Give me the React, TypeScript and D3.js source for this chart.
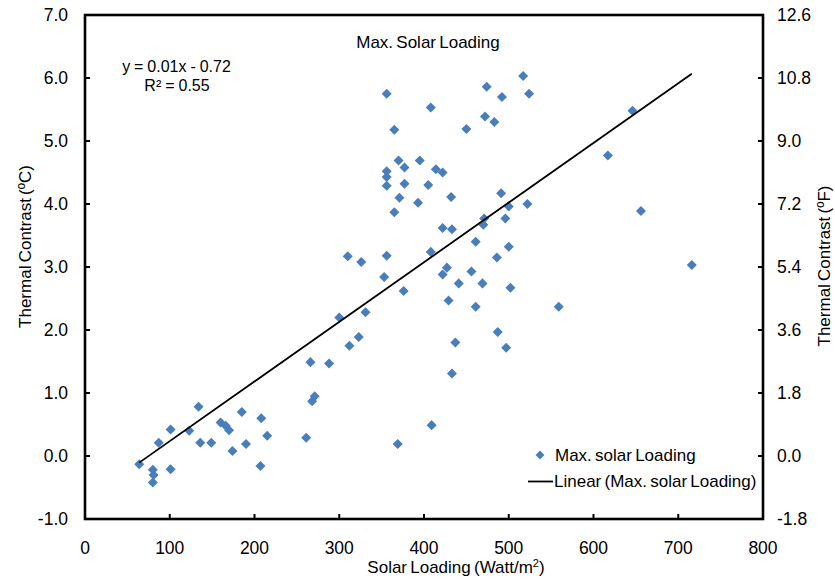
import React from "react";
import * as d3 from "d3";

const solarLoading = [64, 80, 81, 80, 87, 101, 101, 123, 134, 136, 149, 160, 166, 170, 174, 185, 190, 208, 207, 215,
  261, 268, 271, 266, 288, 300, 312, 323, 331, 310, 326, 353, 356, 376, 369, 409, 433, 437, 497, 487,
  429, 461, 559, 441, 469, 502, 456, 422, 427, 486, 408, 461, 500, 422, 433, 470, 471, 496, 500, 522,
  491, 432, 365, 371, 393, 356, 377, 405, 356, 356, 377, 370, 395, 414, 422, 365, 356, 408, 450, 483,
  472, 492, 474, 517, 524, 646, 617, 656, 716];
const thermalContrast = [-0.13, -0.22, -0.30, -0.42, 0.21, 0.42, -0.21, 0.40, 0.78, 0.21, 0.21, 0.53, 0.48, 0.41, 0.08, 0.70, 0.19, 0.60, -0.16, 0.32,
  0.29, 0.87, 0.95, 1.49, 1.47, 2.20, 1.75, 1.89, 2.28, 3.17, 3.08, 2.84, 3.18, 2.62, 0.19, 0.49, 1.31, 1.80, 1.72, 1.97,
  2.47, 2.37, 2.37, 2.74, 2.74, 2.67, 2.93, 2.88, 2.99, 3.15, 3.24, 3.40, 3.32, 3.62, 3.60, 3.67, 3.77, 3.77, 3.96, 4.00,
  4.17, 4.11, 3.87, 4.10, 4.02, 4.29, 4.32, 4.30, 4.43, 4.52, 4.58, 4.69, 4.69, 4.55, 4.50, 5.18, 5.75, 5.53, 5.19, 5.30,
  5.39, 5.70, 5.86, 6.03, 5.75, 5.48, 4.77, 3.89, 3.03];

const xTicks = [0, 100, 200, 300, 400, 500, 600, 700, 800];
const yTicksC = [-1, 0, 1, 2, 3, 4, 5, 6, 7];
const yTicksF = ["-1.8", "0.0", "1.8", "3.6", "5.4", "7.2", "9.0", "10.8", "12.6"];

const title = "Max. Solar Loading";
const equationText = "y = 0.01x - 0.72";
const r2Text = "R² = 0.55";
const seriesName = "Max. solar Loading";
const trendName = "Linear (Max. solar Loading)";

const W = 835, H = 581;
const left = 85, right = 763, top = 15, bottom = 519;
const FONT = "'Liberation Sans', Arial, sans-serif";
const BLUE = "#4A7EBB";
const FS = 16;
const TFS = 17;

export default function App() {
  const x = d3.scaleLinear().domain([0, 800]).range([left, right]);
  const y = d3.scaleLinear().domain([-1, 7]).range([bottom, top]);

  const n = solarLoading.length;
  const mx = d3.mean(solarLoading) as number;
  const my = d3.mean(thermalContrast) as number;
  let sxy = 0, sxx = 0;
  for (let i = 0; i < n; i++) {
    sxy += (solarLoading[i] - mx) * (thermalContrast[i] - my);
    sxx += (solarLoading[i] - mx) ** 2;
  }
  const slope = sxy / sxx;
  const intercept = my - slope * mx;
  const [xmin, xmax] = d3.extent(solarLoading) as [number, number];
  const line = d3.line<number>().x((v) => x(v)).y((v) => y(slope * v + intercept));

  const diamond = d3.symbol().type(d3.symbolDiamond2).size(64)() as string;

  return (
    <svg width={W} height={H} style={{ position: "absolute", left: 0, top: 0, background: "#fff" }} fontFamily={FONT}>
      <rect x={0} y={0} width={W} height={H} fill="#fff" />
      {/* ticks */}
      {xTicks.map((t) => (
        <line key={"xt" + t} x1={x(t)} x2={x(t)} y1={bottom} y2={bottom - 5} stroke="#000" strokeWidth={2} />
      ))}
      {yTicksC.map((t) => (
        <g key={"yt" + t}>
          <line x1={left} x2={left + 5} y1={y(t)} y2={y(t)} stroke="#000" strokeWidth={2} />
          <line x1={right} x2={right - 5} y1={y(t)} y2={y(t)} stroke="#000" strokeWidth={2} />
        </g>
      ))}
      {/* frame */}
      <rect x={left} y={top} width={right - left} height={bottom - top} fill="none" stroke="#000" strokeWidth={2.6} />
      {/* points */}
      {solarLoading.map((v, i) => (
        <path key={"p" + i} d={diamond} transform={`translate(${x(v)},${y(thermalContrast[i])})`} fill={BLUE} />
      ))}
      {/* trendline */}
      <path d={line([xmin, xmax]) as string} fill="none" stroke="#000" strokeWidth={1.8} />
      {/* tick labels */}
      {xTicks.map((t) => (
        <text key={"xl" + t} x={x(t)} y={554} textAnchor="middle" fontSize={17.5} fill="#000">{t}</text>
      ))}
      {yTicksC.map((t) => (
        <text key={"yl" + t} x={68} y={y(t) + 6} textAnchor="end" fontSize={17.5} fill="#000">{t.toFixed(1)}</text>
      ))}
      {yTicksF.map((t, i) => (
        <text key={"yf" + t} x={777} y={y(yTicksC[i]) + 6} textAnchor="start" fontSize={17.5} fill="#000">{t}</text>
      ))}
      {/* titles */}
      <text x={428} y={48} textAnchor="middle" fontSize={TFS} wordSpacing={-1.5}>{title}</text>
      <text x={176.5} y={72} textAnchor="middle" fontSize={FS} wordSpacing={-0.5}>{equationText}</text>
      <text x={177} y={90.5} textAnchor="middle" fontSize={FS} wordSpacing={-0.5}>{r2Text}</text>
      <text x={456} y={573} textAnchor="middle" fontSize={TFS} wordSpacing={-1.5}>
        Solar Loading (Watt/m<tspan dy={-6} fontSize={11}>2</tspan><tspan dy={6}>)</tspan>
      </text>
      <text transform={`translate(31,246.5) rotate(-90)`} textAnchor="middle" fontSize={TFS} wordSpacing={-1.5}>
        Thermal Contrast (ºC)
      </text>
      <text transform={`translate(830,266) rotate(-90)`} textAnchor="middle" fontSize={TFS} wordSpacing={-1.5}>
        Thermal Contrast (ºF)
      </text>
      {/* legend */}
      <path d={d3.symbol().type(d3.symbolDiamond2).size(50)() as string} transform="translate(540,455)" fill={BLUE} />
      <text x={555} y={461} fontSize={TFS} wordSpacing={-1.5}>{seriesName}</text>
      <line x1={528} x2={553} y1={481.5} y2={481.5} stroke="#000" strokeWidth={1.8} />
      <text x={554} y={487} fontSize={TFS} wordSpacing={-1.5}>{trendName}</text>
    </svg>
  );
}
